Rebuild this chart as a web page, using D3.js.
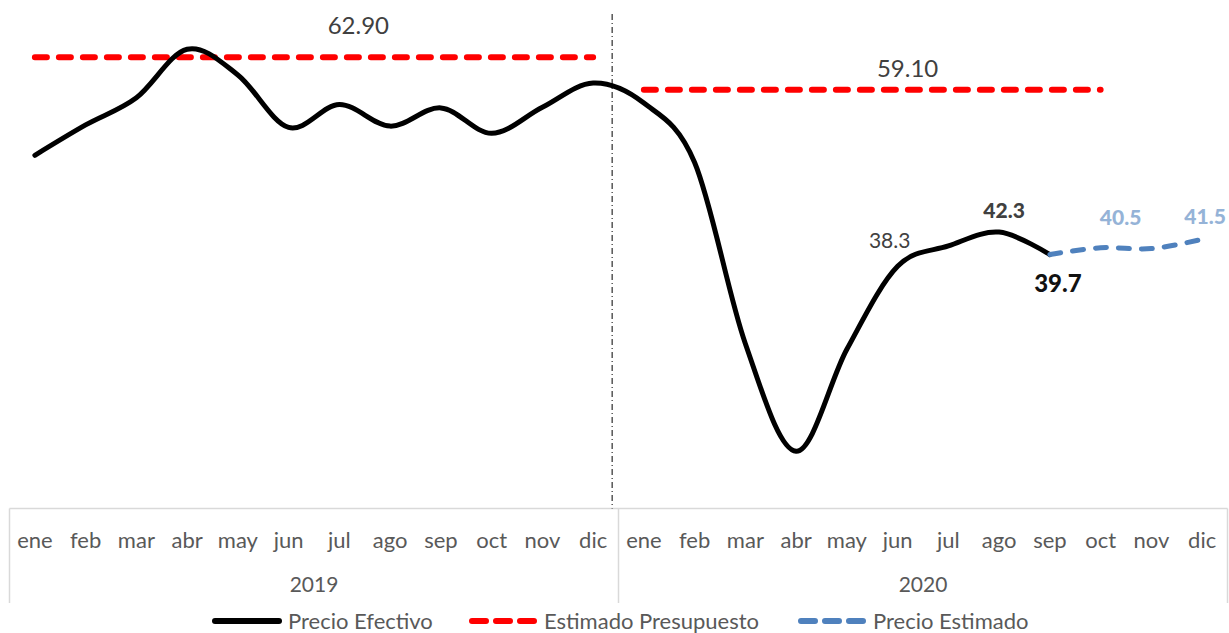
<!DOCTYPE html>
<html>
<head>
<meta charset="utf-8">
<script src="https://cdn.jsdelivr.net/npm/d3@7"></script>
<style>
  html, body { margin: 0; padding: 0; background: #fff; }
  svg { display: block; font-family: Lato, "Noto Sans", sans-serif; }
</style>
</head>
<body>
<svg id="chart" width="1229" height="633"></svg>
<script>
// ---- data ----
const years = ["2019", "2020"];
const months = ["ene", "feb", "mar", "abr", "may", "jun", "jul", "ago", "sep", "oct", "nov", "dic"];
const precioEfectivo2019 = [51.38, 54.95, 58.15, 63.86, 60.83, 54.66, 57.35, 54.81, 56.95, 53.96, 57.03, 59.88];
const precioEfectivo2020 = [57.52, 50.54, 29.21, 16.55, 28.56, 38.31, 40.71, 42.34, 39.7];
const presupuesto2019 = 62.90;
const presupuesto2020 = 59.10;
const presupuesto2020Months = 10; // ene..oct
const precioEstimadoMonths = ["sep", "oct", "nov", "dic"];
const precioEstimado = [39.7, 40.5, 40.4, 41.5];
const legendLabels = ["Precio Efectivo", "Estimado Presupuesto", "Precio Estimado"];

// ---- setup ----
const svg = d3.select("#chart");
const keys = [];
years.forEach(y => months.forEach(m => keys.push(y + "-" + m)));

const x = d3.scaleBand().domain(keys).range([9.5, 1227.5]).padding(0);
const cx = k => x(k) + x.bandwidth() / 2;
const y = d3.scaleLinear().domain([10, 70]).range([507, -3]);

const axisY = 508.5;
const gray = "#595959";
const dark = "#404040";

// ---- axis box ----
const axisG = svg.append("g").attr("transform", `translate(0,${axisY})`);
const ax = d3.axisBottom(x).tickSize(0).tickPadding(0).tickFormat(k => k.split("-")[1]);
axisG.call(ax);
axisG.select(".domain").remove();
axisG.selectAll(".tick text")
  .attr("y", 39).attr("dy", 0)
  .attr("fill", gray).attr("font-size", 22).attr("font-family", "Lato, sans-serif");

const lineColor = "#d9d9d9";
svg.append("line").attr("x1", x.range()[0]).attr("x2", x.range()[1])
  .attr("y1", axisY).attr("y2", axisY).attr("stroke", lineColor).attr("stroke-width", 1.5);
const sepXs = [x(keys[0]), x(keys[12]), x.range()[1]];
sepXs.forEach(sx => {
  svg.append("line").attr("x1", sx).attr("x2", sx).attr("y1", axisY).attr("y2", 603)
    .attr("stroke", lineColor).attr("stroke-width", 1.5);
});
years.forEach((yr, i) => {
  const x0 = x(keys[i * 12]), x1 = x(keys[i * 12 + 11]) + x.bandwidth();
  svg.append("text").attr("x", (x0 + x1) / 2).attr("y", 592)
    .attr("text-anchor", "middle").attr("fill", gray).attr("font-size", 21).text(yr);
});

// ---- vertical dash-dot separator ----
const vx = cx("2019-dic") + 19;
svg.append("line").attr("x1", vx).attr("x2", vx).attr("y1", y(68)).attr("y2", axisY)
  .attr("stroke", "#000").attr("stroke-width", 1).attr("stroke-dasharray", "6,3,1,3");

// ---- budget lines ----
const red = "#ff0000";
svg.append("line")
  .attr("x1", cx("2019-ene")).attr("x2", cx("2019-dic"))
  .attr("y1", y(presupuesto2019)).attr("y2", y(presupuesto2019))
  .attr("stroke", red).attr("stroke-width", 6).attr("stroke-linecap", "round")
  .attr("stroke-dasharray", "12,12");
svg.append("line")
  .attr("x1", cx("2020-ene")).attr("x2", cx("2020-" + months[presupuesto2020Months - 1]))
  .attr("y1", y(presupuesto2020)).attr("y2", y(presupuesto2020))
  .attr("stroke", red).attr("stroke-width", 6).attr("stroke-linecap", "round")
  .attr("stroke-dasharray", "12,12");

svg.append("text").attr("x", cx("2019-jul") + 19).attr("y", y(presupuesto2019) - 23)
  .attr("text-anchor", "middle").attr("fill", dark).attr("font-size", 24).text(presupuesto2019.toFixed(2));
svg.append("text").attr("x", cx("2020-jun") + 10).attr("y", y(presupuesto2020) - 13)
  .attr("text-anchor", "middle").attr("fill", dark).attr("font-size", 24).text(presupuesto2020.toFixed(2));

// ---- actual price line ----
const efectivo = [];
precioEfectivo2019.forEach((v, i) => efectivo.push({ k: "2019-" + months[i], v }));
precioEfectivo2020.forEach((v, i) => efectivo.push({ k: "2020-" + months[i], v }));
const line = d3.line().x(d => cx(d.k)).y(d => y(d.v)).curve(d3.curveCatmullRom.alpha(0));
svg.append("path").datum(efectivo).attr("d", line)
  .attr("fill", "none").attr("stroke", "#000").attr("stroke-width", 5)
  .attr("stroke-linejoin", "round").attr("stroke-linecap", "round");

// ---- estimated price line ----
const estimado = precioEstimadoMonths.map((m, i) => ({ k: "2020-" + m, v: precioEstimado[i] }));
svg.append("path").datum(estimado).attr("d", line)
  .attr("fill", "none").attr("stroke", "#4f81bd").attr("stroke-width", 5)
  .attr("stroke-linecap", "round").attr("stroke-dasharray", "11,12");

// ---- data labels ----
const lbl = (k, v, dx, dy, opts) => {
  svg.append("text").attr("x", cx(k) + dx).attr("y", y(v) + dy)
    .attr("text-anchor", "middle").attr("fill", opts.color)
    .attr("font-weight", opts.bold ? "900" : "normal").attr("font-size", opts.size || 21)
    .text(v.toFixed(1));
};
lbl("2020-jun", precioEfectivo2020[5], -8, -18, { color: dark });
lbl("2020-ago", precioEfectivo2020[7], 5, -14, { color: dark, bold: true });
lbl("2020-sep", precioEfectivo2020[8], 8, 37, { color: "#111", bold: true, size: 24 });
lbl("2020-oct", precioEstimado[1], 20, -23, { color: "#95b3d7", bold: true });
lbl("2020-dic", precioEstimado[3], 3, -15, { color: "#95b3d7", bold: true });

// ---- legend ----
const legendY = 621;
const legendItems = [
  { x: 212, color: "#000", dash: null },
  { x: 468, color: red, dash: "12,8" },
  { x: 797, color: "#4f81bd", dash: "12,8" }
];
legendItems.forEach((it, i) => {
  const l = svg.append("line").attr("x1", it.x + 3).attr("x2", it.x + 67)
    .attr("y1", legendY).attr("y2", legendY)
    .attr("stroke", it.color).attr("stroke-width", 6).attr("stroke-linecap", "round");
  if (it.dash) l.attr("stroke-dasharray", "14,10").attr("x1", it.x + 4);
  svg.append("text").attr("x", it.x + 76).attr("y", legendY + 8)
    .attr("fill", gray).attr("font-size", 22).text(legendLabels[i]);
});
</script>
</body>
</html>
